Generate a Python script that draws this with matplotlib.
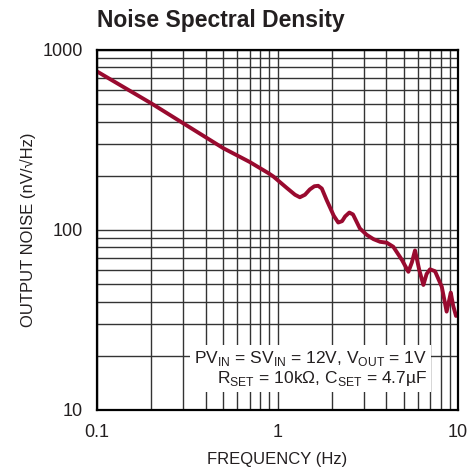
import matplotlib
matplotlib.use('Agg')
import matplotlib.pyplot as plt
from matplotlib.ticker import LogLocator, FixedLocator, NullFormatter

# noise spectral density
freq = [0.1, 0.2, 0.3, 0.5, 0.7, 0.89, 0.95, 1.12, 1.25, 1.33, 1.42, 1.51,
        1.6, 1.68, 1.76, 1.87, 2.05, 2.17, 2.28, 2.37, 2.5, 2.62, 2.86,
        3.12, 3.4, 3.7, 4.03, 4.38, 4.9, 5.31, 5.55, 5.78, 6.1, 6.43,
        6.7, 7.0, 7.46, 8.13, 8.65, 8.9, 9.12, 9.4, 9.75]
noise = [760, 505, 392, 285, 239, 207, 198, 172, 157, 152, 157, 168,
         175, 176, 170, 147, 120, 110, 112, 119, 125, 122, 102,
         94, 89, 86, 85, 80.7, 68, 58.6, 66, 77, 60, 49.5,
         57, 60.5, 59, 48.4, 35.2, 40, 44.9, 38, 33.3]

x_ticks = [0.1, 1, 10]
x_labels = ['0.1', '1', '10']
y_ticks = [10, 100, 1000]
y_labels = ['10', '100', '1000']

FONT = ['Liberation Sans', 'DejaVu Sans']
TXT = '#231f20'
plt.rcParams['font.family'] = FONT
plt.rcParams['mathtext.fontset'] = 'custom'
plt.rcParams['mathtext.rm'] = 'Liberation Sans'

fig = plt.figure(figsize=(4.67, 4.70), dpi=100)
ax = fig.add_axes([97/467, 60/470, 361/467, 360/470])

ax.plot(freq, noise, color='#990a2f', lw=2.8, solid_joinstyle='round',
        solid_capstyle='round', zorder=4)

ax.set_xscale('log')
ax.set_yscale('log')
ax.set_xlim(0.1, 10)
ax.set_ylim(10, 1000)

ax.xaxis.set_major_locator(FixedLocator(x_ticks))
ax.yaxis.set_major_locator(FixedLocator(y_ticks))
ax.set_xticklabels(x_labels)
ax.set_yticklabels(y_labels)
ax.xaxis.set_minor_locator(LogLocator(base=10, subs=range(2, 10)))
ax.yaxis.set_minor_locator(LogLocator(base=10, subs=range(2, 10)))
ax.xaxis.set_minor_formatter(NullFormatter())
ax.yaxis.set_minor_formatter(NullFormatter())
ax.grid(True, which='both', color='#333333', lw=1.0)
ax.tick_params(which='both', length=0, labelsize=13, labelcolor=TXT)
ax.tick_params(axis='x', pad=10)
ax.tick_params(axis='y', pad=10)
for s in ax.spines.values():
    s.set_linewidth(1.6)
    s.set_color('black')
    s.set_zorder(5)

ax.set_xlabel('FREQUENCY (Hz)', fontsize=12, color=TXT, labelpad=8)
ax.set_ylabel('OUTPUT NOISE (nV/√Hz)', fontsize=12, color=TXT, labelpad=5)

note = (r'PV$_{\mathregular{IN}}$ = SV$_{\mathregular{IN}}$ = 12V, V$_{\mathregular{OUT}}$ = 1V' + '\n'
        r'R$_{\mathregular{SET}}$ = 10k$\Omega$, C$_{\mathregular{SET}}$ = 4.7µF')
ax.text(0.915, 0.115, note, transform=ax.transAxes, ha='right', va='center',
        multialignment='right', fontsize=12.5, color=TXT, linespacing=1.1, zorder=6,
        bbox=dict(facecolor='white', edgecolor='none', pad=3))

fig.text(97/467, 1 - 27/470, 'Noise Spectral Density', fontsize=16.5,
         fontweight='bold', color=TXT, ha='left', va='baseline')

fig.savefig('out.png', dpi=100)
